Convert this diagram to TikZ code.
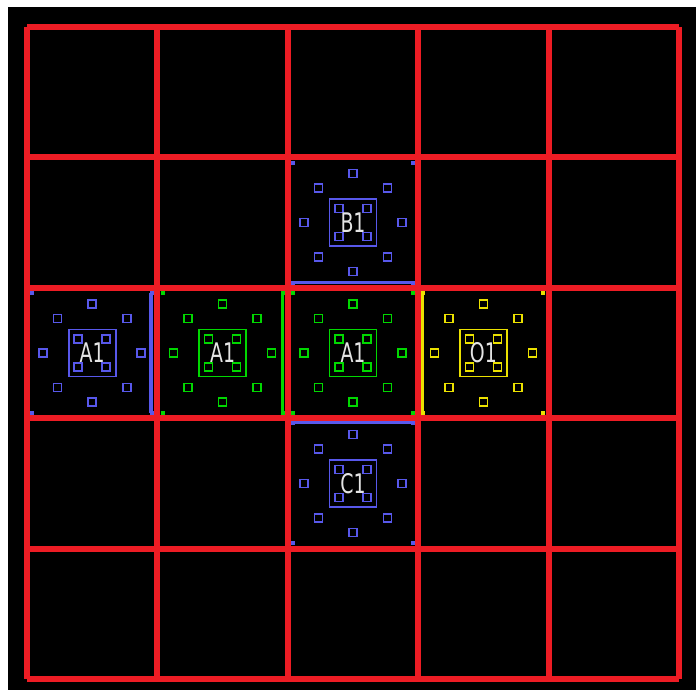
\documentclass[tikz,border=0pt]{standalone}
\usepackage{fontspec}
\newfontfamily\labelfont[FakeStretch=0.7]{DejaVu Sans}
\usetikzlibrary{calc}
\definecolor{GridRed}{RGB}{237,28,36}
\definecolor{GlyphBlue}{RGB}{88,88,235}
\definecolor{GlyphGreen}{RGB}{0,215,0}
\definecolor{GlyphYellow}{RGB}{235,225,0}
\definecolor{LabelGray}{RGB}{228,228,228}
\tikzset{
  grid/line/.style={draw=GridRed, line width=6pt},
  glyph/label/.style={text=LabelGray, inner sep=0pt,
    font=\labelfont\fontsize{27}{27}\selectfont},
  glyph/frame/.style={draw=#1, line width=1.6pt, minimum size=47pt, inner sep=0pt},
  glyph/ring/.style={draw=#1, line width=1.6pt, minimum size=8pt, inner sep=0pt},
  glyph/core/.style={draw=#1, line width=1.6pt, minimum size=8pt, inner sep=0pt},
  glyph/dot/.style={fill=#1, minimum size=4pt, inner sep=0pt},
  glyph/edge/.style={draw=#1, line width=3.5pt}
}

\begin{document}
\begin{tikzpicture}[x=1pt,y=-1pt]
  \useasboundingbox (0,0) rectangle (696,690);
  \fill[white] (0,0) rectangle (696,690);
  \fill[black] (8,7) rectangle (696,690);
  % red board
  \foreach \i in {0,...,5} {
    \draw[grid/line] ({27+130.4*\i},27) -- ({27+130.4*\i},679);
    \draw[grid/line] (27,{27+130.4*\i}) -- (679,{27+130.4*\i});
  }
  % glyph cells: name / column / row / colour / text
  \foreach \name/\c/\r/\col/\txt in {
      b1/2/1/GlyphBlue/B1,
      a1west/0/2/GlyphBlue/A1,
      a1left/1/2/GlyphGreen/A1,
      a1mid/2/2/GlyphGreen/A1,
      o1/3/2/GlyphYellow/O1,
      c1/2/3/GlyphBlue/C1} {
    \coordinate (\name) at ({92.2+130.4*\c},{92.2+130.4*\r});
    \node[glyph/frame=\col] (\name-frame) at (\name) {};
    \foreach \a in {0,45,...,315}
      \node[glyph/ring=\col] at ([shift={(\a:49)}]\name) {};
    \foreach \dx/\dy in {-14/-14,14/-14,-14/14,14/14}
      \node[glyph/core=\col] at ([shift={(\dx,\dy)}]\name) {};
    \foreach \dx/\dy in {-60/-60,60/-60,-60/60,60/60}
      \node[glyph/dot=\col] at ([shift={(\dx,\dy)}]\name) {};
    \node[glyph/label] (\name-text) at (\name) {\txt};
  }
  % open sides
  \draw[glyph/edge=GlyphBlue] ([shift={(-60,60)}]b1) -- ([shift={(60,60)}]b1);
  \draw[glyph/edge=GlyphBlue] ([shift={(-60,-61)}]c1) -- ([shift={(60,-61)}]c1);
  \draw[glyph/edge=GlyphBlue] ([shift={(59,-60)}]a1west) -- ([shift={(59,60)}]a1west);
  \draw[glyph/edge=GlyphGreen] ([shift={(60,-60)}]a1left) -- ([shift={(60,60)}]a1left);
  \draw[glyph/edge=GlyphYellow] ([shift={(-61,-60)}]o1) -- ([shift={(-61,60)}]o1);
\end{tikzpicture}
\end{document}
